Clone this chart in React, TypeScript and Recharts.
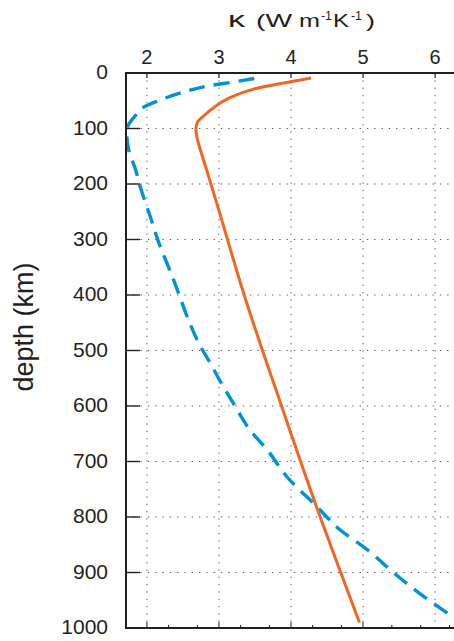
import { CartesianGrid, Line, LineChart, XAxis, YAxis } from "recharts";

const kTicks = [2, 3, 4, 5, 6];
const depthTicks = [0, 100, 200, 300, 400, 500, 600, 700, 800, 900, 1000];
const minorKTicks = Array.from({ length: 45 }, (_, i) => Math.round((1.8 + i * 0.1) * 10) / 10);

// solid orange profile
const orangeDepth = [9, 17, 29, 44, 62, 77, 89, 101, 116, 146, 175, 248, 400, 589, 780, 990];
const orangeK = [4.28, 3.94, 3.48, 3.16, 2.93, 2.79, 2.7, 2.68, 2.695, 2.76, 2.83, 3.0, 3.35, 3.84, 4.35, 4.95];

// dashed blue profile
const blueDepth = [10, 17, 23, 35, 51, 62, 77, 92, 107, 140, 173, 206, 260, 311, 356, 397, 446, 487, 523, 565, 595, 643, 679, 727, 780, 823, 859, 901, 943, 982];
const blueK = [3.49, 3.16, 2.86, 2.49, 2.14, 1.95, 1.84, 1.75, 1.72, 1.75, 1.84, 1.91, 2.05, 2.18, 2.32, 2.44, 2.58, 2.72, 2.88, 3.06, 3.2, 3.43, 3.67, 3.94, 4.35, 4.68, 5.06, 5.43, 5.84, 6.27];

const orangeData = orangeDepth.map((depth, i) => ({ depth, k: orangeK[i] }));
const blueData = blueDepth.map((depth, i) => ({ depth, k: blueK[i] }));

const INK = "#231f20";
const FONT = "'Liberation Sans', Arial, Helvetica, sans-serif";
const K_DOMAIN: [number, number] = [1.71, 6.29];

// plot box (must agree with margins + axis sizes below)
const PLOT = { left: 126, top: 73, right: 456, bottom: 628 };

const TopTick = ({ x, y, payload }: any) => (
  <g>
    <line x1={x} x2={x} y1={y} y2={y + 5} stroke={INK} strokeWidth={1.2} />
    <text x={x} y={y - 9} textAnchor="middle" fontSize={20} fontFamily={FONT} fill={INK}>
      {payload.value}
    </text>
  </g>
);

const LeftTick = ({ x, y, payload }: any) => (
  <g>
    <line x1={x} x2={x + 14} y1={y} y2={y} stroke={INK} strokeWidth={1.4} />
    <text x={x - 18} y={y + 6} textAnchor="end" fontSize={21} fontFamily={FONT} fill={INK}>
      {payload.value}
    </text>
  </g>
);

const RightTick = ({ x, y }: any) => (
  <line x1={x - 11} x2={x} y1={y} y2={y} stroke={INK} strokeWidth={1.4} />
);

const BottomTick = ({ x, y, payload }: any) => {
  const major = Number.isInteger(payload.value);
  return <line x1={x} x2={x} y1={y} y2={y - (major ? 6 : 3)} stroke={INK} strokeWidth={1} />;
};

export default function App() {
  return (
    <div style={{ position: "absolute", left: 0, top: 0, width: 454, height: 641, overflow: "hidden", background: "#fff" }}>
      <LineChart width={466} height={641} layout="vertical"
        margin={{ top: PLOT.top - 30, right: 0, bottom: 641 - PLOT.bottom - 10, left: PLOT.left - 40 }}>
        <CartesianGrid xAxisId={0} yAxisId={0} stroke="#555" strokeDasharray="1.3 6" />
        <XAxis xAxisId={0} type="number" orientation="top" domain={K_DOMAIN} allowDataOverflow ticks={kTicks}
          height={30} tickSize={0} tickMargin={0} tickLine={false} axisLine={false} tick={(p: any) => <TopTick {...p} />} />
        <XAxis xAxisId="b" type="number" orientation="bottom" domain={K_DOMAIN} allowDataOverflow ticks={minorKTicks}
          height={10} tickSize={0} tickMargin={0} tickLine={false} axisLine={false} tick={(p: any) => <BottomTick {...p} />} />
        <YAxis yAxisId={0} type="number" dataKey="depth" domain={[0, 1000]} allowDataOverflow ticks={depthTicks}
          width={40} tickSize={0} tickMargin={0} tickLine={false} axisLine={false} tick={(p: any) => <LeftTick {...p} />} />
        <YAxis yAxisId="r" orientation="right" type="number" domain={[0, 1000]} allowDataOverflow ticks={depthTicks}
          width={10} tickSize={0} tickMargin={0} tickLine={false} axisLine={false} tick={(p: any) => <RightTick {...p} />} />
        <Line data={blueData} dataKey="k" type="monotone" stroke="#0091d8" strokeWidth={3.4} strokeDasharray="16 9"
          dot={false} isAnimationActive={false} />
        <Line data={orangeData} dataKey="k" type="monotone" stroke="#f26522" strokeWidth={3} dot={false} isAnimationActive={false} />
      </LineChart>
      <svg width={454} height={641} style={{ position: "absolute", left: 0, top: 0, pointerEvents: "none" }}>
        <rect x={PLOT.left} y={PLOT.top} width={PLOT.right - PLOT.left + 4} height={PLOT.bottom - PLOT.top}
          fill="none" stroke={INK} strokeWidth={2} />
        <g fontFamily={FONT} fill={INK} fontSize={19}>
          <text x={228} y={27} fontSize={22} textLength={17} lengthAdjust="spacingAndGlyphs">κ</text>
          <text x={256} y={27} textLength={36} lengthAdjust="spacingAndGlyphs">(W</text>
          <text x={299} y={27} textLength={21} lengthAdjust="spacingAndGlyphs">m</text>
          <text x={321} y={20} fontSize={13} textLength={11} lengthAdjust="spacingAndGlyphs">-1</text>
          <text x={333} y={27} textLength={16} lengthAdjust="spacingAndGlyphs">K</text>
          <text x={351} y={20} fontSize={13} textLength={11} lengthAdjust="spacingAndGlyphs">-1</text>
          <text x={366} y={27} textLength={9} lengthAdjust="spacingAndGlyphs">)</text>
        </g>
        <text transform="translate(33,327) rotate(-90)" textAnchor="middle" fontSize={27} fontFamily={FONT} fill={INK}>
          depth (km)
        </text>
      </svg>
    </div>
  );
}
